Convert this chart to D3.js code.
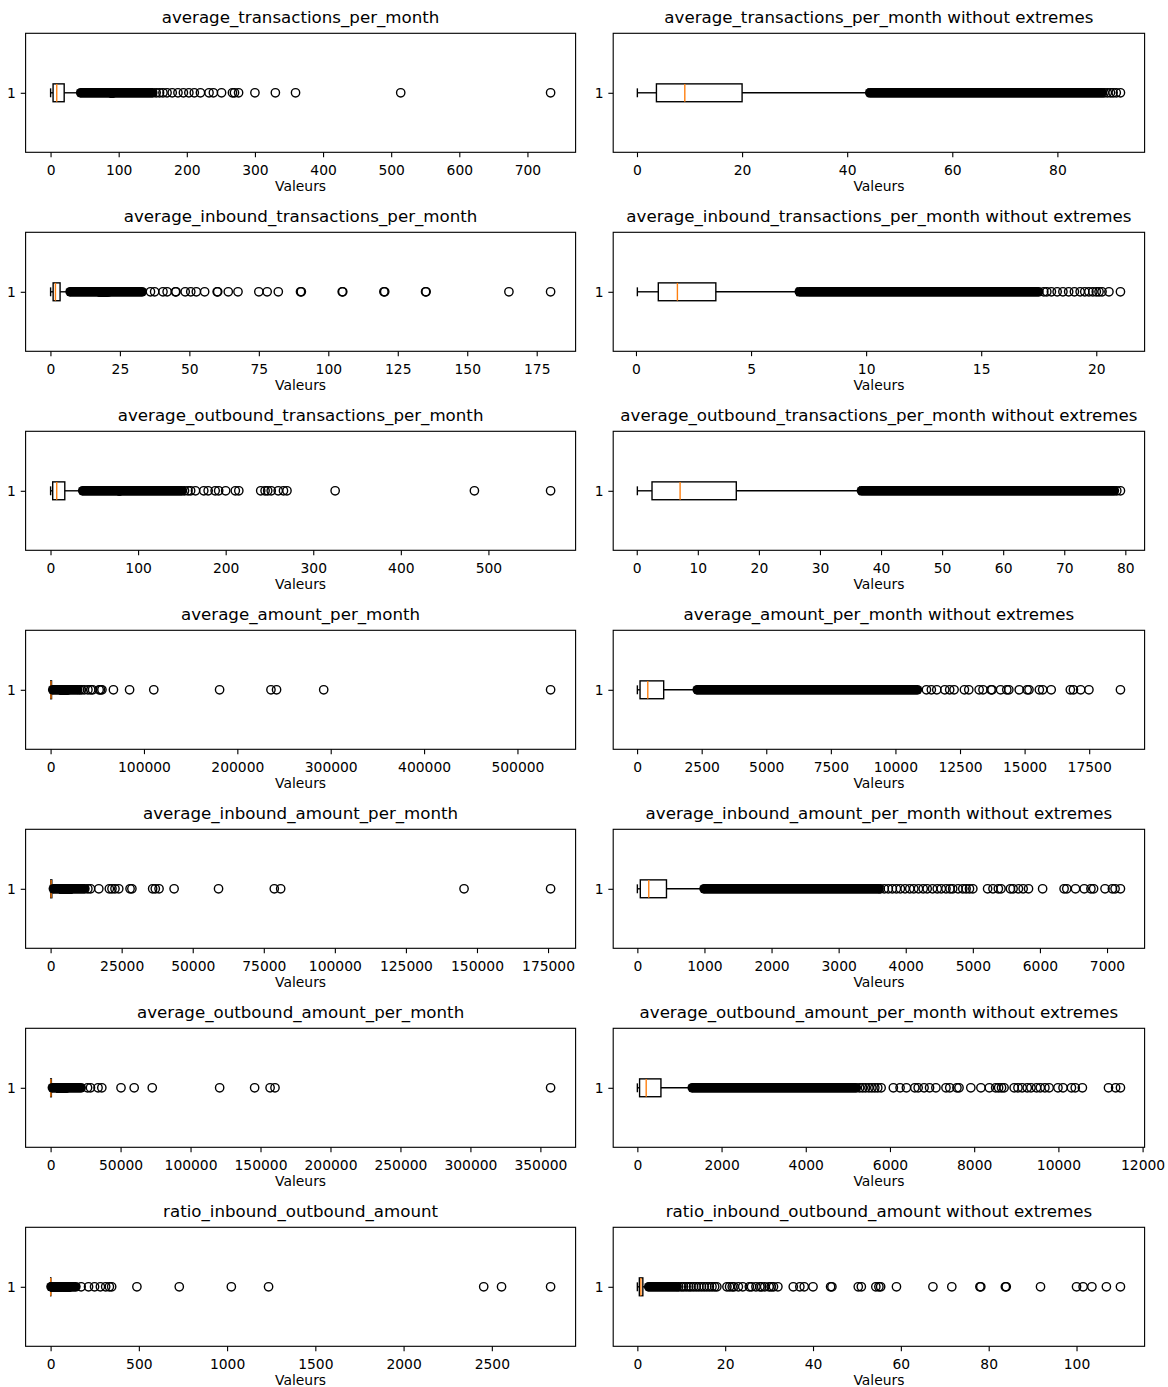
<!DOCTYPE html>
<html>
<head>
<meta charset="utf-8">
<script src="https://cdn.jsdelivr.net/npm/d3@7"></script>
<style>
  body { margin: 0; background: #ffffff; }
  svg { display: block; }
  text { font-family: "DejaVu Sans", sans-serif; fill: #000; }
</style>
</head>
<body>
<svg id="chart" width="1168" height="1387"></svg>
<script>
// ---------- DATA ----------
const metrics = [
  "average_transactions_per_month",
  "average_inbound_transactions_per_month",
  "average_outbound_transactions_per_month",
  "average_amount_per_month",
  "average_inbound_amount_per_month",
  "average_outbound_amount_per_month",
  "ratio_inbound_outbound_amount"
];
const trimSuffix = " without extremes";
const xLabel = "Valeurs";
const yTickLabels = ["1"];

// box statistics per metric
const lowWhiskers  = [0.07, 0.06, 0.1, 10, 0, 0, 0];
const q1s          = [3.7, 0.97, 2.5, 114, 44, 53, 0.45];
const medians      = [9.1, 1.8, 7.1, 414, 170, 210, 0.8];
const q3s          = [20, 3.47, 16.3, 1029, 434, 560, 1.25];
const highWhiskers = [44.0, 7.0, 36.5, 2300, 990, 1300, 2.45];

// value ranges where outliers are so numerous that their markers merge into a solid band
const denseTxTrim     = [[44.3, 88.5]];
const denseInTxTrim   = [[7.1, 17.5]];
const denseOutTxTrim  = [[36.8, 78.2]];
const denseAmtTrim    = [[2330, 10850]];
const denseInAmtTrim  = [[995, 3600]];
const denseOutAmtTrim = [[1305, 5200]];
const denseRatioTrim  = [[2.6, 9.0]];

const denseTxExt     = [[88.5, 150]];
const denseInTxExt   = [[17.5, 33.0]];
const denseOutTxExt  = [[78.2, 150]];
const denseAmtExt    = [[10850, 29000]];
const denseInAmtExt  = [[3600, 12050]];
const denseOutAmtExt = [[5200, 21800]];
const denseRatioExt  = [[9.0, 143]];

// individually visible outliers kept in the "without extremes" view
const fliersTxTrim = [88.9,89.5,90.1,90.6,91.2,92.0];
const fliersInTxTrim = [17.72,17.85,18.05,18.30,18.55,18.80,19.05,19.30,19.50,19.68,19.85,20.00,20.12,20.25,20.55,21.05];
const fliersOutTxTrim = [78.6,79.2];
const fliersAmtTrim = [11200,11390,11600,11910,12100,12270,12670,12840,13240,13390,13700,13740,14070,14310,14390,14790,15100,15170,15570,15700,16030,16770,16890,17170,17490,18710];
const fliersInAmtTrim = [3620,3680,3740,3800,3860,3920,3990,4060,4120,4190,4260,4320,4400,4470,4530,4600,4660,4700,4780,4850,4900,4950,5000,5220,5300,5380,5420,5560,5600,5680,5750,5830,6040,6360,6400,6530,6660,6760,6800,6970,7080,7120,7200];
const fliersOutAmtTrim = [5280,5350,5420,5500,5570,5640,5710,5790,6080,6240,6390,6590,6670,6810,6940,7090,7330,7420,7590,7640,7920,8160,8360,8510,8580,8650,8710,8950,9040,9140,9260,9350,9480,9570,9680,9780,9990,10110,10310,10400,10570,11190,11360,11474];
const fliersRatioTrim = [9.4,10.0,10.5,11.1,11.7,12.2,12.8,13.4,14.0,14.6,15.2,15.8,16.4,17.0,17.6,18.1,20.4,21.0,21.6,22.0,23.0,24.0,25.5,26.0,27.0,27.9,28.3,29.0,30.0,30.5,31.0,32.0,35.5,37.0,38.0,40.0,44.0,44.3,50.3,51.0,54.3,55.0,55.4,59.0,67.3,71.6,78.0,78.2,83.8,84.0,91.8,100.0,101.5,103.5,106.8,110.0];

// extreme values removed in the "without extremes" view
const extremesTx = [155,160,165,171,178.6,187,195,203,211,220,232.6,239,251,267,270,276,300,330,359.6,514,734];
const extremesInTx = [36,37.5,40.5,42,45,45.2,48.5,50.5,52.5,55.5,60,60.2,64,67.5,75,78,82,90,90.3,105,105.2,120,120.3,135,135.2,165,180];
const extremesOutTx = [153,157,160,165.5,175,180,188,192,200,211,215,240,245,248,252,260,266,270,325,484,571];
const extremesAmt = [31000,33000,36000,40000,43000,45000,52000,53500,55000,67300,84600,110500,181000,236000,242000,292500,535500];
const extremesInAmt = [13110,14040,16960,20660,21590,22650,23980,27950,28600,35900,36830,38150,43450,59080,78690,80940,145450,175900];
const extremesOutAmt = [26400,28500,33900,36600,50310,59730,72640,120800,145800,156850,160350,357300];
const extremesRatio = [173,215,249,282,312,333,346,489,729,1024,1235,2454,2555,2833];

// tick values
const ticksTx = [0,100,200,300,400,500,600,700];
const ticksTxTrim = [0,20,40,60,80];
const ticksInTx = [0,25,50,75,100,125,150,175];
const ticksInTxTrim = [0,5,10,15,20];
const ticksOutTx = [0,100,200,300,400,500];
const ticksOutTxTrim = [0,10,20,30,40,50,60,70,80];
const ticksAmt = [0,100000,200000,300000,400000,500000];
const ticksAmtTrim = [0,2500,5000,7500,10000,12500,15000,17500];
const ticksInAmt = [0,25000,50000,75000,100000,125000,150000,175000];
const ticksInAmtTrim = [0,1000,2000,3000,4000,5000,6000,7000];
const ticksOutAmt = [0,50000,100000,150000,200000,250000,300000,350000];
const ticksOutAmtTrim = [0,2000,4000,6000,8000,10000,12000];
const ticksRatio = [0,500,1000,1500,2000,2500];
const ticksRatioTrim = [0,20,40,60,80,100];

const trimmedDense = [denseTxTrim, denseInTxTrim, denseOutTxTrim, denseAmtTrim, denseInAmtTrim, denseOutAmtTrim, denseRatioTrim];
const extremeDense = [denseTxExt, denseInTxExt, denseOutTxExt, denseAmtExt, denseInAmtExt, denseOutAmtExt, denseRatioExt];
const trimmedFliers = [fliersTxTrim, fliersInTxTrim, fliersOutTxTrim, fliersAmtTrim, fliersInAmtTrim, fliersOutAmtTrim, fliersRatioTrim];
const extremeFliers = [extremesTx, extremesInTx, extremesOutTx, extremesAmt, extremesInAmt, extremesOutAmt, extremesRatio];
const fullTicks = [ticksTx, ticksInTx, ticksOutTx, ticksAmt, ticksInAmt, ticksOutAmt, ticksRatio];
const trimTicks = [ticksTxTrim, ticksInTxTrim, ticksOutTxTrim, ticksAmtTrim, ticksInAmtTrim, ticksOutAmtTrim, ticksRatioTrim];

// ---------- BUILD PANELS ----------
const panels = [];
metrics.forEach((m, i) => {
  const stats = {low: lowWhiskers[i], q1: q1s[i], med: medians[i], q3: q3s[i], high: highWhiskers[i]};
  panels.push(Object.assign({
    title: m,
    dense: trimmedDense[i].concat(extremeDense[i]),
    fliers: trimmedFliers[i].concat(extremeFliers[i]),
    ticks: fullTicks[i]}, stats));
  panels.push(Object.assign({
    title: m + trimSuffix,
    dense: trimmedDense[i],
    fliers: trimmedFliers[i],
    ticks: trimTicks[i]}, stats));
});

// ---------- LAYOUT ----------
const PT = 100 / 72;
const colX = [[25.6, 575.6], [613.2, 1144.6]];
const firstTop = 33.3, rowStep = 199, panelH = 119;
const tickLen = 3.5 * PT;
const lw = 1 * PT, spineW = 0.8 * PT;
const tickFont = 10 * PT, titleFont = 12 * PT;
const markerR = 3 * PT;
const outerR = markerR + lw / 2;
const orange = "#ff7f0e";

const svg = d3.select("#chart");
svg.append("rect").attr("width", 1168).attr("height", 1387).attr("fill", "#fff");

panels.forEach((p, k) => {
  const row = Math.floor(k / 2), col = k % 2;
  const [x0, x1] = colX[col];
  const y0 = firstTop + rowStep * row, y1 = y0 + panelH;

  const all = [p.low, p.high].concat(p.fliers, p.dense.flat());
  const [mn, mx] = d3.extent(all);
  const pad = (mx - mn) * 0.05;
  const x = d3.scaleLinear().domain([mn - pad, mx + pad]).range([x0, x1]);
  const y = d3.scaleLinear().domain([0.5, 1.5]).range([y1, y0]);
  const bw = 0.15, cw = 0.075;

  const g = svg.append("g");

  // x axis
  const xa = g.append("g").attr("transform", `translate(0,${y1})`)
    .call(d3.axisBottom(x).tickValues(p.ticks).tickFormat(d => String(d))
      .tickSize(tickLen).tickSizeOuter(0).tickPadding(7.8));
  xa.select(".domain").remove();
  xa.selectAll("line").attr("stroke", "#000").attr("stroke-width", spineW);
  xa.selectAll("text").attr("font-size", tickFont).attr("font-family", "DejaVu Sans");

  // y axis
  const ya = g.append("g").attr("transform", `translate(${x0},0)`)
    .call(d3.axisLeft(y).tickValues([1]).tickFormat((d, i) => yTickLabels[i])
      .tickSize(tickLen).tickSizeOuter(0).tickPadding(tickLen));
  ya.select(".domain").remove();
  ya.selectAll("line").attr("stroke", "#000").attr("stroke-width", spineW);
  ya.selectAll("text").attr("font-size", tickFont).attr("font-family", "DejaVu Sans");

  // whiskers
  g.append("line").attr("x1", x(p.q1)).attr("x2", x(p.low)).attr("y1", y(1)).attr("y2", y(1))
    .attr("stroke", "#000").attr("stroke-width", lw);
  g.append("line").attr("x1", x(p.q3)).attr("x2", x(p.high)).attr("y1", y(1)).attr("y2", y(1))
    .attr("stroke", "#000").attr("stroke-width", lw);
  // caps
  [p.low, p.high].forEach(v => {
    g.append("line").attr("x1", x(v)).attr("x2", x(v)).attr("y1", y(1 - cw / 2)).attr("y2", y(1 + cw / 2))
      .attr("stroke", "#000").attr("stroke-width", lw);
  });
  // box
  g.append("rect").attr("x", x(p.q1)).attr("y", y(1 + bw / 2))
    .attr("width", Math.max(0.01, x(p.q3) - x(p.q1))).attr("height", y(1 - bw / 2) - y(1 + bw / 2))
    .attr("fill", "none").attr("stroke", "#000").attr("stroke-width", lw);
  // median
  g.append("line").attr("x1", x(p.med)).attr("x2", x(p.med)).attr("y1", y(1 - bw / 2)).attr("y2", y(1 + bw / 2))
    .attr("stroke", orange).attr("stroke-width", lw);

  // dense outlier bands (merged markers)
  g.append("g").selectAll("rect").data(p.dense).join("rect")
    .attr("x", d => x(d[0]) - outerR).attr("y", y(1) - outerR)
    .attr("width", d => x(d[1]) - x(d[0]) + 2 * outerR).attr("height", 2 * outerR)
    .attr("rx", outerR).attr("ry", outerR).attr("fill", "#000");
  // individual fliers
  g.append("g").selectAll("circle").data(p.fliers).join("circle")
    .attr("cx", d => x(d)).attr("cy", y(1)).attr("r", markerR)
    .attr("fill", "none").attr("stroke", "#000").attr("stroke-width", lw);

  // frame
  g.append("rect").attr("x", x0).attr("y", y0).attr("width", x1 - x0).attr("height", y1 - y0)
    .attr("fill", "none").attr("stroke", "#000").attr("stroke-width", spineW);

  // title and label
  g.append("text").attr("x", (x0 + x1) / 2).attr("y", y0 - 10).attr("text-anchor", "middle")
    .attr("font-size", titleFont).text(p.title);
  g.append("text").attr("x", (x0 + x1) / 2).attr("y", y1 + 38.3).attr("text-anchor", "middle")
    .attr("font-size", tickFont).text(xLabel);
});
</script>
</body>
</html>
